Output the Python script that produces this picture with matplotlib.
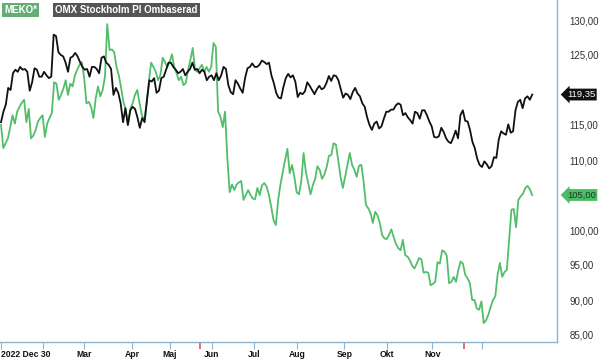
import numpy as np
import matplotlib
matplotlib.use("Agg")
import matplotlib.pyplot as plt
import matplotlib.transforms as mtransforms

# ---------------- data ----------------
omx_values = [
    115.4,116.9,117.9,120.3,120.0,122.4,122.9,122.6,123.3,122.9,123.0,122.6,119.9,121.1,123.1,122.9,
    121.9,121.9,122.6,122.1,121.7,121.9,127.9,127.7,125.4,125.0,124.8,123.9,122.6,124.6,124.8,125.3,
    124.8,124.0,123.3,122.9,123.0,121.9,123.3,123.3,123.0,122.4,124.6,124.8,123.9,123.6,123.0,119.3,
    120.3,119.6,118.1,115.4,117.4,115.0,117.1,117.6,117.3,116.1,114.6,116.0,115.4,118.6,121.4,121.2,
    121.7,119.6,119.9,121.7,121.9,122.9,123.9,123.9,123.3,122.9,122.4,122.6,123.0,122.1,122.6,123.0,
    123.9,122.9,123.0,122.4,122.9,122.6,121.4,121.9,122.1,121.4,122.4,121.4,122.1,123.3,123.0,120.7,
    119.7,119.4,121.4,120.9,120.2,119.6,121.7,123.1,123.3,123.8,123.3,123.3,123.6,124.2,124.0,123.7,
    123.9,122.1,121.0,119.6,118.9,118.8,120.4,121.7,122.3,121.8,122.1,121.2,119.0,119.6,119.4,119.8,
    121.1,120.6,120.0,119.4,120.1,120.6,120.1,120.3,121.0,122.0,121.3,122.1,122.0,121.4,120.1,
    118.9,119.5,119.3,118.7,119.7,120.3,119.5,119.1,118.1,117.6,116.1,115.0,114.3,115.2,115.5,114.5,
    114.8,115.9,116.9,116.9,117.2,117.2,117.8,118.1,117.9,116.4,116.7,116.1,115.7,115.2,116.9,116.7,
    115.9,117.1,117.1,116.4,115.5,114.8,113.3,113.2,113.4,114.6,114.0,113.1,112.6,112.4,113.2,114.2,113.1,
    116.4,117.1,115.6,115.5,114.3,112.6,111.7,110.2,109.3,109.0,109.8,109.4,108.8,109.1,110.4,110.3,
    112.9,114.1,113.8,113.6,115.1,113.9,114.1,117.1,118.3,118.6,117.4,118.8,119.1,118.6,119.35,
]

meko_values = [
    115.0,111.7,112.4,113.1,114.7,116.4,115.2,116.9,117.6,118.2,118.6,115.4,117.3,113.1,113.5,114.3,
    115.5,116.0,116.4,113.3,115.2,116.0,116.7,121.1,120.9,118.6,119.3,120.2,121.4,119.3,120.9,120.5,
    122.1,122.9,123.6,124.0,121.7,118.1,118.3,117.6,116.0,118.8,120.5,119.1,120.0,121.9,129.4,125.7,
    125.8,125.4,123.3,
    122.1,120.3,118.3,117.1,115.0,117.3,118.1,119.3,120.0,118.1,116.4,115.6,117.9,121.2,123.9,123.3,
    122.6,121.4,122.1,124.6,124.0,123.3,124.0,125.1,123.3,122.4,121.4,121.9,120.7,121.0,122.9,124.3,
    126.0,122.9,122.6,123.1,123.6,122.6,123.3,122.6,123.3,126.7,126.2,
    116.9,116.2,114.7,116.9,110.3,105.4,106.5,105.7,106.5,106.8,107.0,104.3,105.0,105.7,105.0,104.5,
    104.4,106.0,105.0,106.4,106.7,106.2,105.0,103.3,101.4,100.7,104.3,106.5,108.3,110.0,111.6,108.1,
    109.3,107.6,105.4,105.1,106.9,111.0,108.3,106.7,105.1,106.4,107.3,109.1,108.6,107.3,107.9,109.0,110.6,
    110.7,112.4,112.2,110.0,107.6,106.0,107.6,109.3,111.0,109.3,108.6,107.6,109.2,109.3,106.9,103.6,
    103.1,102.4,101.0,102.6,102.1,101.0,99.3,98.8,98.7,99.3,100.1,99.0,98.0,97.4,97.1,98.6,
    96.4,96.2,95.7,94.9,94.5,95.2,96.0,95.8,93.9,94.0,93.9,92.1,92.3,92.6,95.4,95.2,97.1,
    96.9,96.3,92.4,92.6,93.3,92.6,94.3,95.5,95.2,93.6,93.1,92.4,90.0,90.0,88.8,88.6,
    89.8,86.7,87.1,87.9,89.0,90.0,90.5,93.6,95.3,93.3,94.0,94.3,98.6,102.9,103.0,100.4,
    104.3,104.8,105.2,106.0,106.3,105.8,105.0,
]

n_days = 253  # trading days from 2022-12-30 to last date
month_ticks = [0, 20, 39.5, 62.5, 80.5, 100.5, 120.5, 141, 163.5, 184, 205.5, 229]
month_labels = ["2022 Dec 30", "", "Mar", "Apr", "Maj", "Jun", "Jul", "Aug", "Sep", "Okt", "Nov", ""]
event_ticks = [95, 220.5]
y_ticks = [85, 90, 95, 100, 110, 115, 125, 130]
series_names = ["MEKO*", "OMX Stockholm PI Ombaserad"]
last_omx = "119,35"
last_meko = "105,00"

# ---------------- style ----------------
GREEN = "#52be6a"
BLACK = "#111111"
AXCOL = "#8fb4d0"
FONT = "Liberation Sans"

fig = plt.figure(figsize=(6.0, 3.59), dpi=100)
ax = fig.add_axes([0.0, 17 / 359, 557 / 600, 342 / 359])

x_omx = np.linspace(0, n_days, len(omx_values))
x_meko = np.linspace(0, n_days, len(meko_values))
ax.plot(x_meko, meko_values, color=GREEN, lw=1.3, solid_joinstyle="round")
ax.plot(x_omx, omx_values, color=BLACK, lw=1.3, solid_joinstyle="round")

ax.set_xlim(-0.48, 264.8)
ax.set_ylim(84, 130 + 20 / 7)

for s in ["left", "top"]:
    ax.spines[s].set_visible(False)
for s in ["right", "bottom"]:
    ax.spines[s].set_color(AXCOL)
    ax.spines[s].set_linewidth(1.0)

ax.yaxis.tick_right()
ax.set_yticks(y_ticks)
ax.set_yticklabels([f"{v:.2f}".replace(".", ",") for v in y_ticks],
                   fontfamily=FONT, fontsize=7, color="#333333")
ax.tick_params(axis="y", length=0, pad=9)

ax.set_xticks(month_ticks)
ax.set_xticklabels(month_labels, fontfamily=FONT, fontsize=6.2, fontweight="bold", color="#111111")
ax.get_xticklabels()[0].set_ha("left")
ax.tick_params(axis="x", which="major", length=5, color=AXCOL, pad=0.5)
ax.set_xticks(event_ticks, minor=True)
ax.tick_params(axis="x", which="minor", length=5, color="#e8505b", width=1.2)

# last value tags
trans = mtransforms.blended_transform_factory(ax.transAxes, ax.transData)
ax.text(1.018, omx_values[-1], last_omx, transform=trans, ha="left", va="center",
        fontsize=6.8, fontfamily=FONT, color="white", clip_on=False, zorder=5,
        bbox=dict(boxstyle="larrow,pad=0.15", fc=BLACK, ec="none"))
ax.text(1.018, meko_values[-1], last_meko, transform=trans, ha="left", va="center",
        fontsize=6.8, fontfamily=FONT, color="#1a3a22", clip_on=False, zorder=5,
        bbox=dict(boxstyle="larrow,pad=0.15", fc="#4cbb68", ec="none"))

# legend boxes
fig.text(4 / 600, 1 - 10 / 359, series_names[0], ha="left", va="center", fontsize=7,
         fontweight="bold", fontfamily=FONT, color="white",
         bbox=dict(boxstyle="square,pad=0.25", fc="#64ad74", ec="none"))
fig.text(55 / 600, 1 - 10 / 359, series_names[1], ha="left", va="center", fontsize=7,
         fontweight="bold", fontfamily=FONT, color="white",
         bbox=dict(boxstyle="square,pad=0.25", fc="#555555", ec="none"))

fig.savefig("out.png", dpi=100)
